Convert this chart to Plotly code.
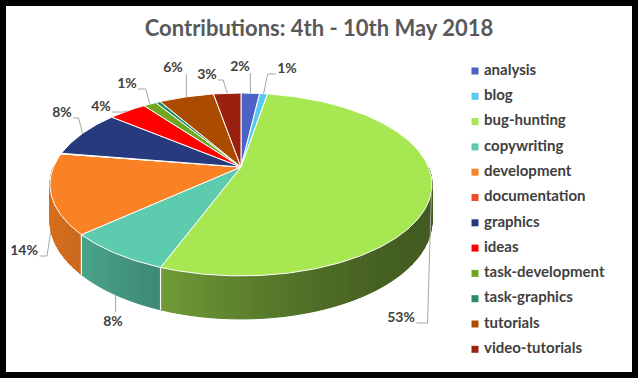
import numpy as np
import plotly.graph_objects as go

# ---------------- data ----------------
CATEGORIES = ["analysis", "blog", "bug-hunting", "copywriting", "development",
              "documentation", "graphics", "ideas", "task-development",
              "task-graphics", "tutorials", "video-tutorials"]
SHARES = [1.9, 0.8, 53.2, 7.6, 14.2, 0.1, 8.4, 3.9, 1.3, 0.5, 5.6, 2.8]
TITLE = "Contributions: 4th - 10th May 2018"

# ---------------- styles / layout ----------------
COLORS = ["#4B63C6", "#59C9F1", "#A7E752", "#5CCBAE", "#FB8224", "#F04A28",
          "#283A7E", "#FF0000", "#6FA820", "#2A8C6E", "#AA4B00", "#9A2010"]
W, H = 638, 378
CX, CY, R, S, K, D = 241.0, 167.0, 187.5, 88.1, 0.191, 34.8
# label placement (pixel x, y, leader anchor on wall bottom?) ; None = no label
LABEL_LAYOUT = [(240, 67, 0), (287, 69, 0), (401, 318, 0), (113, 322, 1),
                (24, 251, 1), None, (62, 113, 0), (101, 107, 0), (127, 84, 0),
                None, (173, 68, 0), (207, 75, 0)]
LEGEND_X, LEGEND_TEXT_X, LEGEND_TOP, LEGEND_STEP = 475, 484, 71, 25.3
FONT = "Lato"
TEXT_COLOR = "#404040"


def proj(theta_deg, depth=0.0):
    th = np.radians(theta_deg)
    u, v = np.sin(th), -np.cos(th)
    w = 1 - K * v
    return CX + R * u / w, CY + S * v / w + depth * D / w


def shade(hexcol, f):
    r, g, b = int(hexcol[1:3], 16), int(hexcol[3:5], 16), int(hexcol[5:7], 16)
    return "rgb(%d,%d,%d)" % (r * f, g * f, b * f)


def wall_factor(x):
    t = min(max((x - 50) / 382.0, 0), 1)
    return 0.40 + 0.46 * (1 - t) ** 1.5


vals = np.array(SHARES, dtype=float)
frac = vals / vals.sum()
ends = np.cumsum(frac) * 360.0
starts = ends - frac * 360.0

fig = go.Figure()

# ---- side walls (front half), gradient strips ----
for i, col in enumerate(COLORS):
    a0, a1 = max(starts[i], 90.0), min(ends[i], 270.0)
    if a1 <= a0:
        continue
    n = max(1, int(np.ceil((a1 - a0) / 0.75)))
    edges = np.linspace(a0, a1, n + 1)
    for a, b in zip(edges[:-1], edges[1:]):
        ang = np.linspace(a, b, 3)
        xt, yt = proj(ang)
        xb, yb = proj(ang[::-1], 1.0)
        xs = np.concatenate([xt, xb, xt[:1]])
        ys = np.concatenate([yt, yb, yt[:1]])
        c = shade(col, wall_factor(float(np.mean(xt))))
        fig.add_trace(go.Scatter(x=xs, y=ys, mode="lines", fill="toself",
                                 fillcolor=c, line=dict(color=c, width=1),
                                 hoverinfo="skip", showlegend=False))
# white separators on the wall
for a in starts:
    if 95 < a < 265:
        xt, yt = proj(a)
        xb, yb = proj(a, 1.0)
        fig.add_trace(go.Scatter(x=[xt, xb], y=[yt, yb], mode="lines",
                                 line=dict(color="white", width=1.2),
                                 hoverinfo="skip", showlegend=False))

# ---- top face slices ----
for i, col in enumerate(COLORS):
    if ends[i] - starts[i] <= 0:
        continue
    n = max(2, int(np.ceil((ends[i] - starts[i]) / 1.0)) + 1)
    ang = np.linspace(starts[i], ends[i], n)
    xa, ya = proj(ang)
    xs = np.concatenate([[CX], xa, [CX]])
    ys = np.concatenate([[CY], ya, [CY]])
    fig.add_trace(go.Scatter(x=xs, y=ys, mode="lines", fill="toself",
                             fillcolor=col, line=dict(color="white", width=1),
                             hoverinfo="skip", showlegend=False))

# ---- data labels + leader lines ----
lab_x, lab_y, lab_t = [], [], []
for i, lay in enumerate(LABEL_LAYOUT):
    if lay is None:
        continue
    lx, ly, on_wall = lay
    mid = (starts[i] + ends[i]) / 2
    ax, ay = proj(mid, 1.0 if on_wall else 0.0)
    txt = "%d%%" % round(frac[i] * 100)
    hw = 4.5 * len(txt) + 1
    dx = lx - ax
    if abs(dx) < hw + 6:
        sy = ly + 6 if ly < ay else ly - 10
        px, py = [ax, ax], [sy, ay]
    else:
        side = 1 if dx > 0 else -1
        ex = lx - side * (hw + 1)
        px = [ex, ax + side * 4, ax]
        py = [ly + 5, ly + 5, ay]
    fig.add_trace(go.Scatter(x=px, y=py, mode="lines",
                             line=dict(color="#A6A6A6", width=1),
                             hoverinfo="skip", showlegend=False))
    lab_x.append(lx)
    lab_y.append(ly)
    lab_t.append(txt)

fig.add_trace(go.Scatter(x=lab_x, y=lab_y, mode="text", text=lab_t,
                         textposition="middle center",
                         textfont=dict(family=FONT, size=14, color=TEXT_COLOR,
                                       weight="bold"),
                         hoverinfo="skip", showlegend=False))

# ---- legend ----
ly_list = [LEGEND_TOP + LEGEND_STEP * i for i in range(len(CATEGORIES))]
fig.add_trace(go.Scatter(x=[LEGEND_X] * len(CATEGORIES), y=ly_list,
                         mode="markers",
                         marker=dict(symbol="square", size=7, color=COLORS,
                                     line=dict(width=0)),
                         hoverinfo="skip", showlegend=False))
fig.add_trace(go.Scatter(x=[LEGEND_TEXT_X] * len(CATEGORIES), y=ly_list,
                         mode="text", text=CATEGORIES,
                         textposition="middle right",
                         textfont=dict(family=FONT, size=15, color=TEXT_COLOR,
                                       weight="bold"),
                         hoverinfo="skip", showlegend=False))

fig.update_layout(
    width=W, height=H, margin=dict(l=0, r=0, t=0, b=0),
    paper_bgcolor="black", plot_bgcolor="black",
    xaxis=dict(range=[0, W], visible=False, fixedrange=True),
    yaxis=dict(range=[H, 0], visible=False, fixedrange=True),
    shapes=[dict(type="rect", xref="x", yref="y", x0=6, y0=6, x1=632, y1=372,
                 fillcolor="white", line=dict(width=0), layer="below")],
    title=dict(text=TITLE, x=0.5, xanchor="center", y=1 - 28 / H,
               yanchor="middle",
               font=dict(family=FONT, size=22, color="#595959", weight="bold")),
    showlegend=False,
)

fig.write_html("out.html", config={"displayModeBar": False},
               post_script="document.body.style.margin='0';"
                           "document.body.style.background='black';")
